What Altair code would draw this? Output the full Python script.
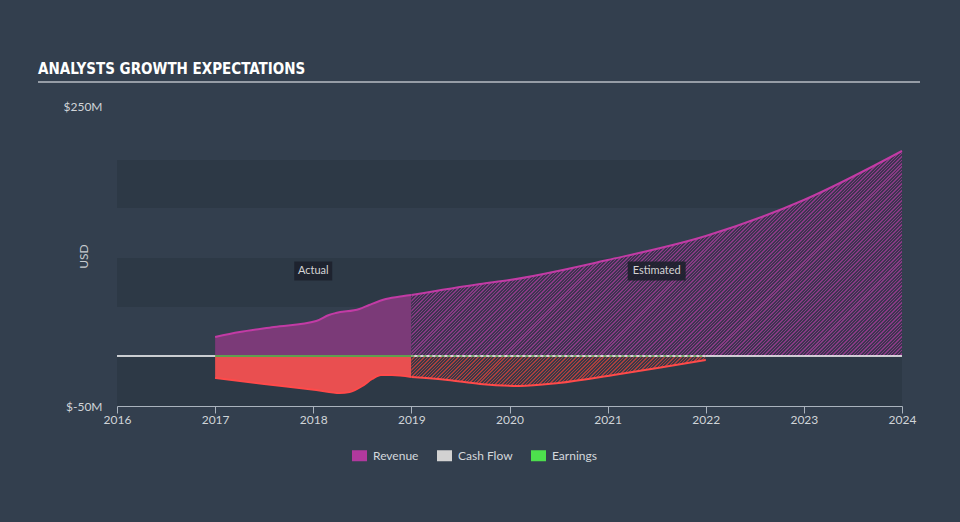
import math
import altair as alt
import pandas as pd

# ---------------- data ----------------
rev_act_year = [2017, 2017.25, 2017.6, 2018.03, 2018.16, 2018.23, 2018.47, 2018.57, 2018.74, 2018.92, 2019]
rev_act_val = [19, 24, 29, 35, 41, 43, 47, 51, 57, 60, 61]

rev_est_year = [2019, 2019.7, 2020, 2021, 2022, 2023, 2024]
rev_est_val = [61, 72, 76, 96, 120, 156, 205]

earn_act_year = [2017, 2017.5, 2018.03, 2018.27, 2018.37, 2018.5, 2018.6, 2018.69, 2018.8, 2019]
earn_act_val = [-22, -28, -34, -37, -36, -30, -23, -19, -19, -21]

earn_est_year = [2019, 2019.37, 2019.7, 2020.1, 2020.5, 2021.06, 2021.57, 2022]
earn_est_val = [-21, -24, -28, -30, -27, -19, -11, -4]

zero_solid_year = [2017, 2019]
zero_dash_year = [2019, 2022]

band_lo = [148, 49, -50]
band_hi = [196, 98, 0]

tick_years = [2016, 2017, 2018, 2019, 2020, 2021, 2022, 2023, 2024]
y_ticks = [-50, 250]

legend_names = ["Revenue", "Cash Flow", "Earnings"]
legend_colors = ["#b1399e", "#d2d2d2", "#4ddf4d"]

tag_text = ["Actual", "Estimated"]
tag_year = [2018.0, 2021.5]
tag_val = [85, 85]

# ---------------- layout ----------------
X_MIN, X_MAX = 2016, 2024
Y_MIN, Y_MAX = -50, 250
W, H = 785, 300
BG = "#333f4e"
BAND = "#2d3946"
FONT = "Lato"

xscale = alt.Scale(domain=[X_MIN, X_MAX], nice=False, zero=False)
yscale = alt.Scale(domain=[Y_MIN, Y_MAX], nice=False, zero=False)

x_axis = alt.Axis(values=tick_years, format="d", title=None, grid=False,
                  domainColor="#aab3bd", tickColor="#aab3bd", tickSize=7,
                  labelColor="#d0d4d8", labelFontSize=12, labelFont=FONT,
                  labelPadding=1, labelFlush=False)
y_axis = alt.Axis(values=y_ticks, labelExpr="'$' + datum.value + 'M'", title="USD",
                  grid=False, domain=False, ticks=False, tickSize=0,
                  labelColor="#d0d4d8", labelFontSize=12, labelFont=FONT,
                  labelPadding=15, titleColor="#c8ccd0", titleFont=FONT,
                  titleFontSize=12, titleFontWeight="normal",
                  titleX=-34, titleY=H / 2, titleAngle=270, titleAlign="center",
                  titleBaseline="middle")


def X(field):
    return alt.X(field, type="quantitative", scale=xscale, axis=x_axis)


def Y(field):
    return alt.Y(field, type="quantitative", scale=yscale, axis=y_axis)


def frame(xs, ys):
    return pd.DataFrame({"year": xs, "value": ys})


def hatch(xs, ys, c_line, c_gap, period=2.4, duty=0.42):
    # diagonal "/" stripes made from a linear gradient over the mark's bounding box
    w = (max(xs) - min(xs)) / (X_MAX - X_MIN) * W
    h = max(abs(v) for v in ys) / (Y_MAX - Y_MIN) * H
    r = h / w
    k = (1 + r) / (1 + r * r)
    n = max(1, int(round((w + h) / math.sqrt(2) / period)))
    stops = []
    for i in range(n):
        s = i / n
        m = (i + duty) / n
        e = (i + 1) / n
        stops += [
            alt.GradientStop(offset=round(s, 5), color=c_line),
            alt.GradientStop(offset=round(m, 5), color=c_line),
            alt.GradientStop(offset=round(m, 5), color=c_gap),
            alt.GradientStop(offset=round(e, 5), color=c_gap),
        ]
    return alt.Gradient(gradient="linear", stops=stops, x1=0, y1=0, x2=k, y2=k * r)


bands_df = pd.DataFrame({"lo": band_lo, "hi": band_hi,
                         "x0": [X_MIN] * len(band_lo), "x1": [X_MAX] * len(band_lo)})
bands = alt.Chart(bands_df).mark_rect(color=BAND).encode(
    x=X("x0"), x2="x1", y=Y("lo"), y2="hi")

rev_act = alt.Chart(frame(rev_act_year, rev_act_val)).mark_area(
    interpolate="monotone", color="#7b3a78", opacity=1,
    line={"color": "#c23ba5", "strokeWidth": 2}
).encode(x=X("year"), y=Y("value"), y2=alt.datum(0))

rev_est = alt.Chart(frame(rev_est_year, rev_est_val)).mark_area(
    interpolate="monotone", fill=hatch(rev_est_year, rev_est_val, "#873a84", "#3e3451"),
    opacity=1, line={"color": "#c23ba5", "strokeWidth": 2}
).encode(x=X("year"), y=Y("value"), y2=alt.datum(0))

earn_act = alt.Chart(frame(earn_act_year, earn_act_val)).mark_area(
    interpolate="monotone", color="#e94f50", opacity=1,
    line={"color": "#ff4a4a", "strokeWidth": 2}
).encode(x=X("year"), y=Y("value"), y2=alt.datum(0))

earn_est = alt.Chart(frame(earn_est_year, earn_est_val)).mark_area(
    interpolate="monotone", fill=hatch(earn_est_year, earn_est_val, "#a8403f", "#3b3947"),
    opacity=1, line={"color": "#ff4a4a", "strokeWidth": 2}
).encode(x=X("year"), y=Y("value"), y2=alt.datum(0))

zero_df = pd.DataFrame({"x0": [X_MIN], "x1": [X_MAX], "v": [0]})
zero = alt.Chart(zero_df).mark_rule(color="#ffffff", strokeWidth=1.5).encode(
    x=X("x0"), x2="x1", y=Y("v"))

green_solid = alt.Chart(frame(zero_solid_year, [0, 0])).mark_line(
    color="#5f9e4f", strokeWidth=2).encode(x=X("year"), y=Y("value"))
green_dash = alt.Chart(frame(zero_dash_year, [0, 0])).mark_line(
    color="#5f9e4f", strokeWidth=1.5, strokeDash=[3, 3]).encode(x=X("year"), y=Y("value"))

tags_df = pd.DataFrame({"t": tag_text, "year": tag_year, "value": tag_val})
box_a = alt.Chart(tags_df.iloc[[0]]).mark_point(
    filled=True, shape="M-1,-0.5H1V0.5H-1Z", size=38 * 38, color="#1d212c", opacity=0.9,
    strokeWidth=0).encode(x=X("year"), y=Y("value"))
box_e = alt.Chart(tags_df.iloc[[1]]).mark_point(
    filled=True, shape="M-1,-0.328H1V0.328H-1Z", size=58 * 58, color="#1d212c", opacity=0.9,
    strokeWidth=0).encode(x=X("year"), y=Y("value"))
tags = alt.Chart(tags_df).mark_text(
    font=FONT, fontSize=11, color="#d4d4d4", align="center", baseline="middle").encode(
    x=X("year"), y=Y("value"), text="t:N")

underline = alt.Chart(zero_df).mark_rule(color="#b8bec4", strokeWidth=1.5).encode(
    x=alt.value(-79), x2=alt.value(803), y=alt.value(-24))

legend_df = pd.DataFrame({"series": legend_names})
legend_layer = alt.Chart(legend_df).mark_point(filled=True, opacity=0, size=0).encode(
    color=alt.Color("series:N",
                    scale=alt.Scale(domain=legend_names, range=legend_colors),
                    legend=alt.Legend(title=None, orient="none", legendX=235, legendY=342,
                                      direction="horizontal",
                                      symbolType="M-1,-0.733H1V0.733H-1Z", symbolSize=225,
                                      symbolOpacity=1, symbolStrokeWidth=0,
                                      labelFont=FONT, labelFontSize=12, labelColor="#d4d8dc",
                                      labelOffset=6, columnPadding=18, padding=0)))

chart = alt.layer(
    bands, rev_act, rev_est, earn_act, earn_est, zero, green_solid, green_dash,
    box_a, box_e, tags, underline, legend_layer
).properties(
    width=W, height=H,
    autosize=alt.AutoSizeParams(type="none"),
    padding={"left": 117, "top": 106, "right": 58, "bottom": 116},
    background=BG,
    title=alt.TitleParams("ANALYSTS GROWTH EXPECTATIONS", anchor="start", frame="group",
                          dx=-79, dy=31, offset=23, baseline="alphabetic",
                          font="'DejaVu Sans Condensed', 'Liberation Sans', sans-serif",
                          fontSize=15, fontWeight="bold", color="#ffffff"),
).configure_view(stroke=None)

chart.save("out.html", embed_options={"renderer": "svg", "actions": False})
